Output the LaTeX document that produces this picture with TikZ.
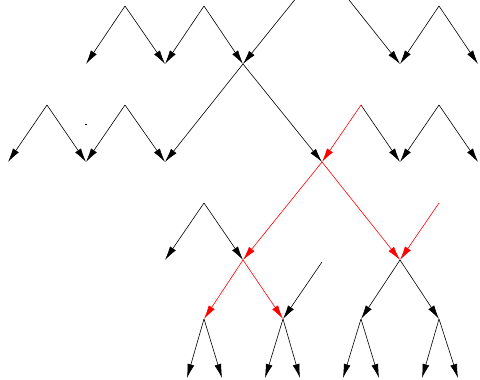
\documentclass[tikz,border=0pt]{standalone}
\usepackage{tikz}
\usetikzlibrary{arrows.meta}
\tikzset{
	edge/.style={-{Latex[length=14pt,width=7pt]}, line width=0.6pt, black},
	hot/.style={edge, red}
}
\begin{document}
\begin{tikzpicture}[x=1pt, y=-1pt]
                    \useasboundingbox (0,0) rectangle (480,380);
                    \clip (0,0) rectangle (480,380);
                    % levels
                    \coordinate (s0) at (322,-34);
                    \foreach \x in {125,204,439} \coordinate (a\x) at (\x,6);
                    \foreach \x in {86,165,243,400,478} \coordinate (b\x) at (\x,64);
                    \foreach \x in {47,125,361,439} \coordinate (c\x) at (\x,105);
                    \foreach \x in {8,86,165,322,400,478} \coordinate (d\x) at (\x,162);
                    \foreach \x in {204,439} \coordinate (e\x) at (\x,203);
                    \foreach \x in {165,243,400} \coordinate (f\x) at (\x,260);
                    \coordinate (f322) at (322,262);
                    \foreach \x in {204,283,361,439} \coordinate (g\x) at (\x,319);
                    \foreach \x in {187,222,265,300,343,379,422,458} \coordinate (h\x) at (\x,378);
                    % black edges
                    \foreach \s/\t in {s0/b243, s0/b400, a125/b86, a125/b165, a204/b165, a204/b243,
                        a439/b400, a439/b478, b243/d165, b243/d322, c47/d8, c47/d86, c125/d86,
                        c125/d165, c361/d400, c439/d400, c439/d478, e204/f165, e204/f243,
                        f322/g283, f400/g361, f400/g439, g204/h187, g204/h222, g283/h265,
                        g283/h300, g361/h343, g361/h379, g439/h422, g439/h458}
                        \draw[edge] (\s) -- (\t);
                    % red path
                    \foreach \s/\t in {c361/d322, d322/f243, d322/f400, e439/f400, f243/g204, f243/g283}
                        \draw[hot] (\s) -- (\t);
                    \fill (85.4,123.6) rectangle (86.6,124.6);
                \end{tikzpicture}
\end{document}
